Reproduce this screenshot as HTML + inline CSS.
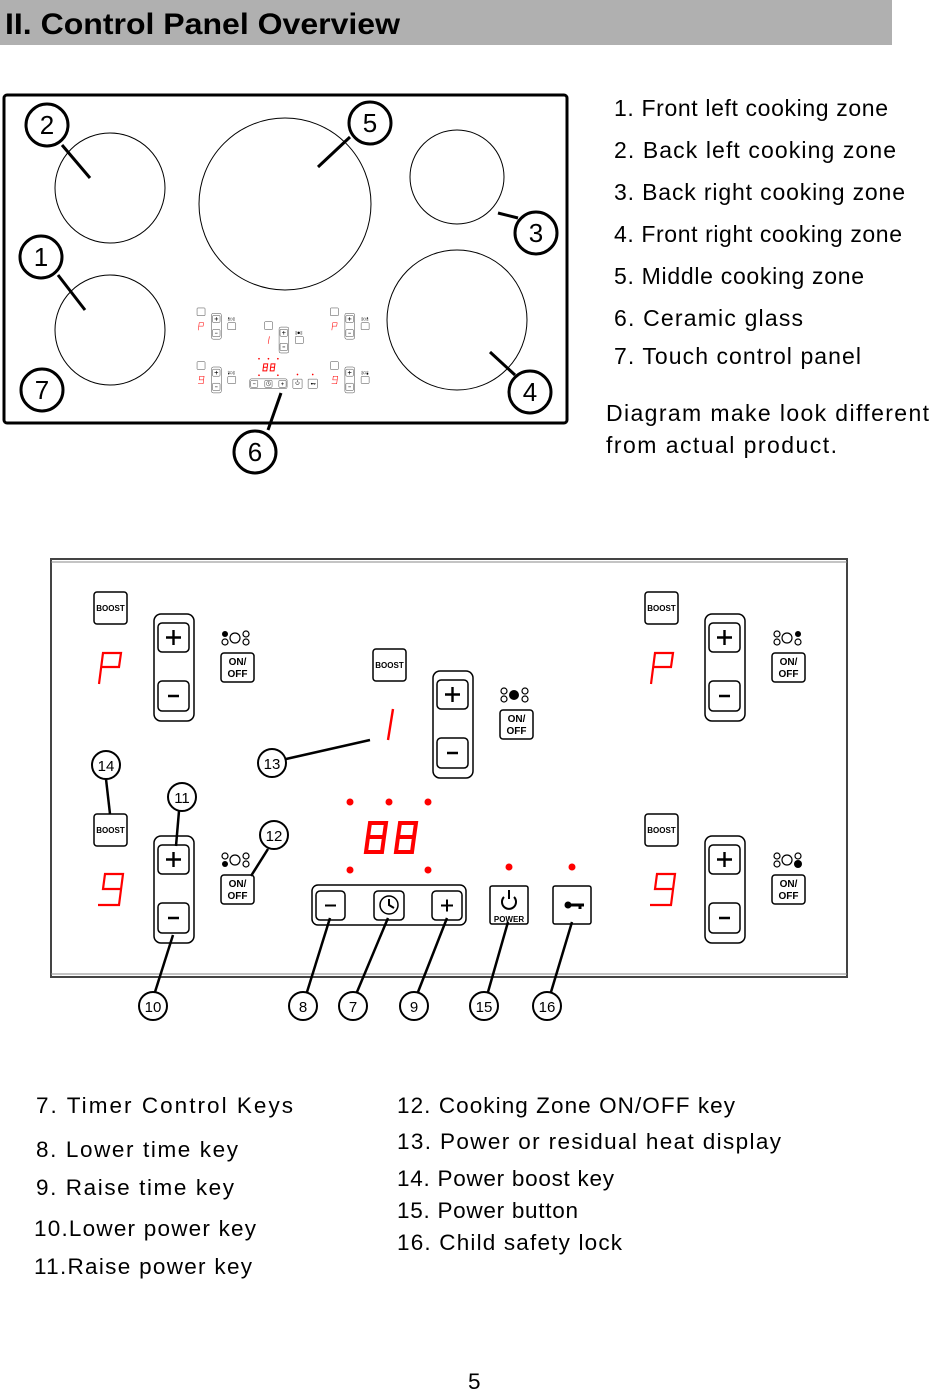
<!DOCTYPE html>
<html><head><meta charset="utf-8"><style>
html,body{margin:0;padding:0;background:#fff;}
svg{display:block;font-family:"Liberation Sans",Arial,sans-serif;}
</style></head><body>
<svg width="929" height="1391" viewBox="0 0 929 1391" xmlns="http://www.w3.org/2000/svg">
<defs>
 <g id="icoL"><circle cx="3" cy="3" r="3" fill="#000"/><circle cx="3" cy="11" r="3" fill="none" stroke="#000" stroke-width="1.2"/><circle cx="13" cy="7" r="5" fill="none" stroke="#000" stroke-width="1.2"/><circle cx="24" cy="3" r="3" fill="none" stroke="#000" stroke-width="1.2"/><circle cx="24" cy="11" r="3" fill="none" stroke="#000" stroke-width="1.2"/></g>
 <g id="unit" fill="#fff" stroke="#000" stroke-width="1.5">
  <rect x="0" y="0" width="33" height="32" rx="3"/>
  <rect x="60" y="22" width="40" height="107" rx="7"/>
  <rect x="64" y="31" width="31" height="29" rx="4"/>
  <rect x="64" y="89" width="31" height="30" rx="4"/>
  <rect x="127" y="61" width="33" height="29" rx="3"/>
  <path d="M79.5,38v15M72,45.5h15M74,104h11" stroke-width="2.4"/>
 </g>
 <path id="dP" d="M5,33 L9,2 L27,2 L25,16 L7,16" fill="none" stroke="#f00" stroke-width="2.2"/>
 <path id="d9" d="M27,17 L9,17 L11,2 L29,2 L25,33 L4,33" fill="none" stroke="#f00" stroke-width="2.2"/>
 <path id="d8" d="M6,16 L8,2 L24,2 L22,16 Z M6,16 L4,31 L20,31 L22,16" fill="none" stroke="#f00" stroke-width="4"/>
 <g id="shapes">
  <use href="#unit" x="94" y="592"/><use href="#dP" x="94" y="651"/><use href="#icoL" x="222" y="631"/>
  <use href="#unit" x="373" y="649"/><path d="M393,709 L388,740" stroke="#f00" stroke-width="2.4"/>
  <g transform="translate(501,688)"><circle cx="3" cy="3" r="3" fill="none" stroke="#000" stroke-width="1.2"/><circle cx="3" cy="11" r="3" fill="none" stroke="#000" stroke-width="1.2"/><circle cx="13" cy="7" r="5" fill="#000"/><circle cx="24" cy="3" r="3" fill="none" stroke="#000" stroke-width="1.2"/><circle cx="24" cy="11" r="3" fill="none" stroke="#000" stroke-width="1.2"/></g>
  <use href="#unit" x="645" y="592"/><use href="#dP" x="646" y="651"/>
  <g transform="translate(774,631)"><circle cx="3" cy="3" r="3" fill="none" stroke="#000" stroke-width="1.2"/><circle cx="3" cy="11" r="3" fill="none" stroke="#000" stroke-width="1.2"/><circle cx="13" cy="7" r="5" fill="none" stroke="#000" stroke-width="1.2"/><circle cx="24" cy="3" r="3" fill="#000"/><circle cx="24" cy="11" r="3" fill="none" stroke="#000" stroke-width="1.2"/></g>
  <use href="#unit" x="94" y="814"/><use href="#d9" x="94" y="872"/>
  <g transform="translate(222,853)"><circle cx="3" cy="3" r="3" fill="none" stroke="#000" stroke-width="1.2"/><circle cx="3" cy="11" r="3" fill="#000"/><circle cx="13" cy="7" r="5" fill="none" stroke="#000" stroke-width="1.2"/><circle cx="24" cy="3" r="3" fill="none" stroke="#000" stroke-width="1.2"/><circle cx="24" cy="11" r="3" fill="none" stroke="#000" stroke-width="1.2"/></g>
  <use href="#unit" x="645" y="814"/><use href="#d9" x="646" y="872"/>
  <g transform="translate(774,853)"><circle cx="3" cy="3" r="3" fill="none" stroke="#000" stroke-width="1.2"/><circle cx="3" cy="11" r="3" fill="none" stroke="#000" stroke-width="1.2"/><circle cx="13" cy="7" r="5" fill="none" stroke="#000" stroke-width="1.2"/><circle cx="24" cy="3" r="3" fill="none" stroke="#000" stroke-width="1.2"/><circle cx="24" cy="11" r="4" fill="#000"/></g>
  <g fill="#f00"><circle cx="350" cy="802" r="3.5"/><circle cx="389" cy="802" r="3.5"/><circle cx="428" cy="802" r="3.5"/><circle cx="350" cy="870" r="3.5"/><circle cx="428" cy="870" r="3.5"/><circle cx="509" cy="867" r="3.5"/><circle cx="572" cy="867" r="3.5"/></g>
  <use href="#d8" x="362" y="821"/><use href="#d8" x="392" y="821"/>
  <g fill="#fff" stroke="#000" stroke-width="1.5">
   <rect x="312" y="885" width="154" height="40" rx="6"/>
   <rect x="316" y="891" width="29" height="29" rx="4"/>
   <rect x="374" y="891" width="30" height="29" rx="4"/>
   <rect x="432" y="891" width="30" height="29" rx="4"/>
   <rect x="490" y="886" width="38" height="38" rx="2"/>
   <rect x="553" y="886" width="38" height="38" rx="2"/>
   <circle cx="389" cy="905" r="9"/>
   <path d="M389,899v6l5,3M325,905.5h11M441,905.5h12M447,899.5v12" stroke-width="2"/>
   <path d="M504,897 A7,7 0 1 0 514,897" stroke-width="2"/><path d="M509,890v9" stroke-width="2"/>
  </g>
  <circle cx="568" cy="905" r="3.5" fill="#000"/><path d="M570,905h14M580,905v4" stroke="#000" stroke-width="3"/>
 </g>
</defs>

<rect x="0" y="0" width="892" height="45" fill="#b0b0b0"/>
<text x="5" y="34" font-size="30" font-weight="bold" textLength="395" lengthAdjust="spacingAndGlyphs">II. Control Panel Overview</text>

<rect x="4" y="95" width="563" height="328" rx="3" fill="none" stroke="#000" stroke-width="3"/>
<g fill="none" stroke="#000" stroke-width="1">
 <circle cx="110" cy="188" r="55"/><circle cx="110" cy="330" r="55"/>
 <circle cx="285" cy="204" r="86"/><circle cx="457" cy="177" r="47"/><circle cx="457" cy="320" r="70"/>
</g>
<g stroke="#000" stroke-width="3" fill="#fff">
 <line x1="62" y1="145" x2="90" y2="178"/><line x1="350" y1="137" x2="318" y2="167"/>
 <line x1="58" y1="275" x2="85" y2="310"/><line x1="498" y1="213" x2="518" y2="218"/>
 <line x1="490" y1="352" x2="515" y2="375"/><line x1="268" y1="430" x2="281" y2="393"/>
 <circle cx="47" cy="125" r="21"/><circle cx="370" cy="123" r="21"/><circle cx="41" cy="257" r="21"/>
 <circle cx="536" cy="233" r="21"/><circle cx="42" cy="390" r="21"/><circle cx="530" cy="392" r="21"/><circle cx="255" cy="452" r="21"/>
</g>
<g font-size="26" text-anchor="middle">
 <text x="47" y="134">2</text><text x="370" y="132">5</text><text x="41" y="266">1</text><text x="536" y="242">3</text>
 <text x="42" y="399">7</text><text x="530" y="401">4</text><text x="255" y="461">6</text>
</g>
<g transform="translate(174.3,164.7) scale(0.242)"><use href="#shapes"/></g>

<g font-size="23" lengthAdjust="spacing">
 <text x="614" y="116" textLength="274">1.  Front left cooking zone</text>
 <text x="614" y="158" textLength="282">2.  Back left cooking zone</text>
 <text x="614" y="200" textLength="291">3.  Back right cooking zone</text>
 <text x="614" y="242" textLength="288">4.  Front right cooking zone</text>
 <text x="614" y="284" textLength="250">5.  Middle cooking zone</text>
 <text x="614" y="326" textLength="189">6.  Ceramic glass</text>
 <text x="614" y="364" textLength="247">7.  Touch control panel</text>
 <text x="606" y="421" textLength="323">Diagram make look different</text>
 <text x="606" y="453" textLength="231">from actual product.</text>
</g>

<rect x="51" y="559" width="796" height="418" fill="none" stroke="#444" stroke-width="2"/>
<line x1="51" y1="562" x2="847" y2="562" stroke="#888" stroke-width="1"/>
<line x1="51" y1="974" x2="847" y2="974" stroke="#888" stroke-width="1"/>
<use href="#shapes"/>
<g font-size="8" font-weight="bold" text-anchor="middle">
 <text x="110.5" y="611">BOOST</text><text x="389.5" y="668">BOOST</text><text x="661.5" y="611">BOOST</text>
 <text x="110.5" y="833">BOOST</text><text x="661.5" y="833">BOOST</text>
 <text x="509" y="922" font-size="8">POWER</text>
</g>
<g font-size="10" font-weight="bold" text-anchor="middle">
 <text x="237.5" y="665">ON/</text><text x="237.5" y="677">OFF</text>
 <text x="516.5" y="722">ON/</text><text x="516.5" y="734">OFF</text>
 <text x="788.5" y="665">ON/</text><text x="788.5" y="677">OFF</text>
 <text x="237.5" y="887">ON/</text><text x="237.5" y="899">OFF</text>
 <text x="788.5" y="887">ON/</text><text x="788.5" y="899">OFF</text>
</g>
<g stroke="#000" stroke-width="2.5" fill="#fff">
 <line x1="106" y1="779" x2="110" y2="814"/><line x1="286" y1="759" x2="370" y2="740"/>
 <line x1="179" y1="811" x2="176" y2="846"/><line x1="268" y1="849" x2="251" y2="876"/>
 <line x1="155" y1="992" x2="173" y2="935"/><line x1="307" y1="992" x2="330" y2="918"/>
 <line x1="357" y1="992" x2="388" y2="918"/><line x1="418" y1="992" x2="447" y2="918"/>
 <line x1="488" y1="992" x2="508" y2="922"/><line x1="551" y1="992" x2="572" y2="922"/>
</g>
<g stroke="#000" stroke-width="2" fill="#fff">
 <circle cx="106" cy="765" r="14"/><circle cx="272" cy="763" r="14"/><circle cx="182" cy="797" r="14"/><circle cx="274" cy="835" r="14"/>
 <circle cx="153" cy="1006" r="14"/><circle cx="303" cy="1006" r="14"/><circle cx="353" cy="1006" r="14"/><circle cx="414" cy="1006" r="14"/><circle cx="484" cy="1006" r="14"/><circle cx="547" cy="1006" r="14"/>
</g>
<g font-size="15" text-anchor="middle">
 <text x="106" y="771">14</text><text x="272" y="769">13</text><text x="182" y="803">11</text><text x="274" y="841">12</text>
 <text x="153" y="1012">10</text><text x="303" y="1012">8</text><text x="353" y="1012">7</text><text x="414" y="1012">9</text><text x="484" y="1012">15</text><text x="547" y="1012">16</text>
</g>

<g font-size="22.5" lengthAdjust="spacing">
 <text x="36" y="1113" textLength="257">7.   Timer Control Keys</text>
 <text x="36" y="1157" textLength="202">8.  Lower time key</text>
 <text x="36" y="1195" textLength="198">9.  Raise time key</text>
 <text x="34" y="1236" textLength="222">10.Lower power key</text>
 <text x="34" y="1274" textLength="218">11.Raise power key</text>
 <text x="397" y="1113" textLength="338">12. Cooking Zone ON/OFF key</text>
 <text x="397" y="1149" textLength="384">13. Power or residual heat display</text>
 <text x="397" y="1186" textLength="217">14. Power boost key</text>
 <text x="397" y="1218" textLength="181">15. Power button</text>
 <text x="397" y="1250" textLength="225">16. Child safety lock</text>
 <text x="468" y="1389">5</text>
</g>
</svg>
</body></html>
